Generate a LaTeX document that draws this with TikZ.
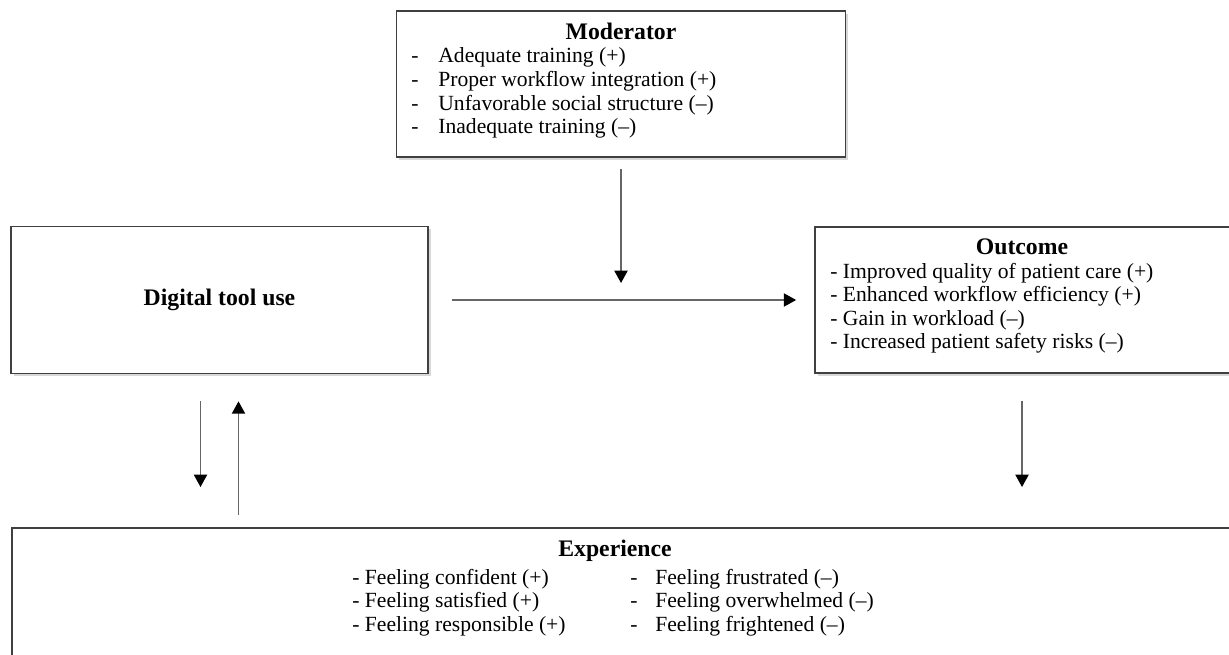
\documentclass[tikz,border=0pt]{standalone}
\usepackage{fontspec}
\setmainfont{Liberation Serif}
\usetikzlibrary{arrows.meta,shadows}

\newcommand{\itemfont}{\fontsize{12.3}{13.4}\selectfont}
\newcommand{\headfont}{\fontsize{13.5}{15}\selectfont\bfseries}
\newcommand{\dashitem}[1]{\makebox[0.54cm][l]{-}#1}
\newcommand{\dashwide}[1]{\makebox[0.5cm][l]{-}#1}

\tikzset{
  box/.style={draw=black!75, line width=1pt, fill=white, rectangle,
    drop shadow={opacity=0.3, shadow xshift=1.5pt, shadow yshift=-1.5pt}},
  head/.style={font=\headfont, anchor=base, inner sep=0pt},
  item/.style={font=\itemfont, anchor=base west, inner sep=0pt},
  arr/.style={draw=black!60, line width=0.8pt,
    -{Triangle[length=7pt,width=7.5pt,color=black]}},
}

\begin{document}
\begin{tikzpicture}[x=0.02cm, y=-0.02cm]
	\clip (0,0) rectangle (1229,655);
	\fill[white] (0,0) rectangle (1229,655);

	% Boxes
	\node[box, minimum width=8.98cm, minimum height=2.92cm] (mod) at (621,84) {};
	\node[box, minimum width=8.34cm, minimum height=2.94cm, font=\headfont] (tool) at (219.5,300) {Digital tool use};
	\node[box, minimum width=8.6cm, minimum height=2.92cm] (out) at (1030,300) {};
	\node[box, minimum width=24.8cm, minimum height=4cm, anchor=north west] (exp) at (11,527) {};

	% Moderator
	\node[head] (modhead) at (621,40) {Moderator};
	\node[item] (modlist) at (411,63) {\begin{tabular}[t]{@{}l@{}}
		\dashitem{Adequate training (+)}\\
		\dashitem{Proper workflow integration (+)}\\
		\dashitem{Unfavorable social structure (–)}\\
		\dashitem{Inadequate training (–)}
	\end{tabular}};

	% Outcome
	\node[head] (outhead) at (1022,254) {Outcome};
	\node[item] (outlist) at (830,278) {\begin{tabular}[t]{@{}l@{}}
		- Improved quality of patient care (+)\\
		- Enhanced workflow efficiency (+)\\
		- Gain in workload (–)\\
		- Increased patient safety risks (–)
	\end{tabular}};

	% Experience
	\node[head] (exphead) at (615,556) {Experience};
	\node[item] (explist) at (352,584) {\begin{tabular}[t]{@{}l@{}}
		- Feeling confident (+)\\
		- Feeling satisfied (+)\\
		- Feeling responsible (+)
	\end{tabular}};
	\node[item] (expneg) at (630,584) {\begin{tabular}[t]{@{}l@{}}
		\dashwide{Feeling frustrated (–)}\\
		\dashwide{Feeling overwhelmed (–)}\\
		\dashwide{Feeling frightened (–)}
	\end{tabular}};

	% Arrows
	\coordinate (meet) at (621,283);
	\draw[arr, shorten <=0.22cm] (mod) -- (meet);
	\draw[arr, shorten <=0.46cm, shorten >=0.36cm] (tool) -- (out);
	\draw[arr, shorten <=0.54cm, shorten >=0.8cm] ([xshift=-0.38cm]tool.south) -- ([xshift=-0.38cm]tool.south |- exp.north);
	\draw[arr, shorten <=0.24cm, shorten >=0.54cm] ([xshift=0.38cm]tool.south |- exp.north) -- ([xshift=0.38cm]tool.south);
	\draw[arr, shorten <=0.54cm, shorten >=0.8cm] ([xshift=-0.16cm]out.south) -- ([xshift=-0.16cm]out.south |- exp.north);
\end{tikzpicture}
\end{document}
